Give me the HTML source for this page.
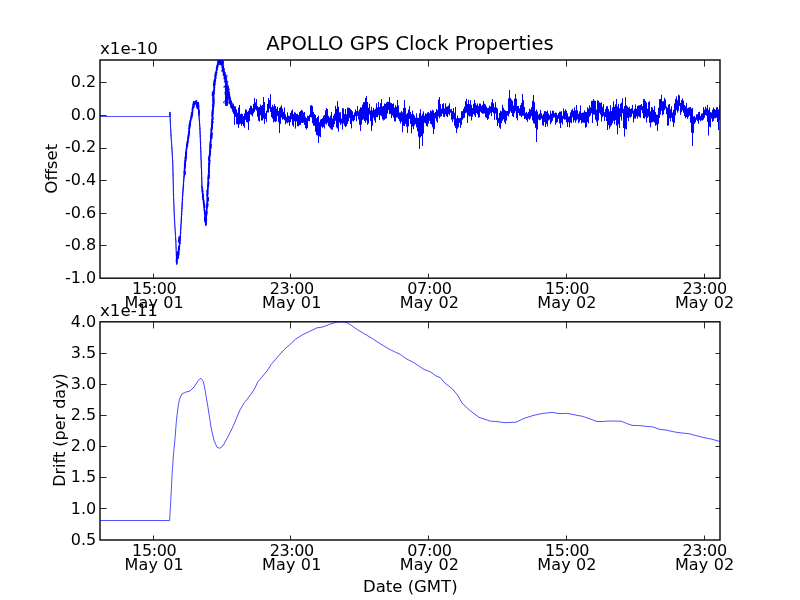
<!DOCTYPE html>
<html><head><meta charset="utf-8"><style>html,body{margin:0;padding:0;background:#fff;overflow:hidden}svg{display:block}</style></head>
<body><svg width="800" height="600" viewBox="0 0 800 600">
<rect width="800" height="600" fill="#fff"/>
<g font-family="DejaVu Sans, Liberation Sans, sans-serif" font-size="16.00" fill="#000">
<defs><clipPath id="c1"><rect x="100" y="60" width="620" height="218.18"/></clipPath><clipPath id="c2"><rect x="100" y="321.82" width="620" height="218.18"/></clipPath></defs>
<rect x="100" y="60" width="620" height="218.18" fill="none" stroke="#000" stroke-width="1.39"/>
<rect x="100" y="321.82" width="620" height="218.18" fill="none" stroke="#000" stroke-width="1.39"/>
<g clip-path="url(#c2)"><polyline points="100.0,520.5 169.6,520.5 170.6,503.7 172.0,475.4 173.5,454.2 174.9,440.0 176.5,419.5 178.0,407.5 179.5,399.2 181.8,394.0 185.5,392.2 190.0,391.0 194.5,386.5 198.2,380.5 200.8,378.2 203.2,381.2 205.0,389.5 208.0,407.5 211.0,427.0 214.0,440.5 217.0,447.2 219.7,448.3 223.0,445.8 227.5,437.5 233.5,425.5 236.0,419.3 240.3,409.3 244.3,402.7 249.7,396.0 254.3,389.3 257.7,382.0 261.7,377.3 267.7,370.0 271.0,364.7 275.0,360.0 279.0,355.3 283.7,350.0 289.7,344.7 295.5,339.3 302.4,334.8 309.3,331.5 316.8,327.9 323.0,326.9 329.9,324.2 336.8,322.1 340.9,321.7 345.7,322.1 350.5,324.9 357.4,329.7 364.3,333.8 372.5,338.6 380.8,344.1 389.0,349.0 394.6,351.8 400.2,354.3 405.9,358.6 413.8,362.6 423.9,369.4 430.6,372.0 436.2,376.0 440.3,377.7 445.2,383.3 452.0,388.5 457.6,395.2 462.1,403.1 470.0,410.6 479.0,417.3 490.2,421.1 497.0,421.6 504.9,422.7 516.1,422.2 524.0,418.4 533.0,415.5 542.0,413.5 552.1,412.4 558.8,413.6 567.5,413.4 574.0,414.7 582.8,416.4 590.5,419.1 597.0,421.5 602.5,421.5 609.0,421.0 621.1,421.2 626.6,423.4 632.0,425.4 639.7,425.6 646.2,426.3 652.8,426.9 659.4,429.3 666.0,430.0 673.6,431.8 681.2,432.9 689.0,433.7 694.4,435.2 703.1,437.4 711.9,439.2 719.5,441.4 720.0,441.5" fill="none" stroke="#00f" stroke-width="0.69" stroke-linejoin="round"/></g><g clip-path="url(#c1)"><line x1="100" y1="116.5" x2="169.6" y2="116.5" stroke="#00f" stroke-width="0.69"/>
<line x1="169.6" y1="116.5" x2="170.0" y2="112.3" stroke="#00f" stroke-width="0.75" stroke-linecap="round"/>
<line x1="170.0" y1="112.3" x2="170.3" y2="121.7" stroke="#00f" stroke-width="0.75" stroke-linecap="round"/>
<line x1="170.3" y1="121.7" x2="171.0" y2="135.0" stroke="#00f" stroke-width="0.75" stroke-linecap="round"/>
<line x1="171.0" y1="135.0" x2="171.9" y2="148.3" stroke="#00f" stroke-width="0.75" stroke-linecap="round"/>
<line x1="171.9" y1="148.3" x2="172.7" y2="161.7" stroke="#00f" stroke-width="0.75" stroke-linecap="round"/>
<line x1="172.7" y1="161.7" x2="173.1" y2="175.0" stroke="#00f" stroke-width="0.75" stroke-linecap="round"/>
<line x1="173.1" y1="175.0" x2="173.5" y2="195.0" stroke="#00f" stroke-width="0.75" stroke-linecap="round"/>
<line x1="173.5" y1="195.0" x2="174.5" y2="220.0" stroke="#00f" stroke-width="0.75" stroke-linecap="round"/>
<line x1="174.5" y1="220.0" x2="175.8" y2="240.0" stroke="#00f" stroke-width="0.75" stroke-linecap="round"/>
<line x1="175.8" y1="240.0" x2="176.4" y2="255.0" stroke="#00f" stroke-width="0.75" stroke-linecap="round"/>
<line x1="176.4" y1="255.0" x2="176.7" y2="264.0" stroke="#00f" stroke-width="0.75" stroke-linecap="round"/>
<line x1="176.7" y1="264.0" x2="177.5" y2="252.0" stroke="#00f" stroke-width="1.4" stroke-linecap="round"/>
<line x1="177.5" y1="252.0" x2="178.2" y2="258.0" stroke="#00f" stroke-width="1.4" stroke-linecap="round"/>
<line x1="178.2" y1="258.0" x2="179.2" y2="248.0" stroke="#00f" stroke-width="1.4" stroke-linecap="round"/>
<line x1="179.2" y1="248.0" x2="180.3" y2="236.7" stroke="#00f" stroke-width="1.4" stroke-linecap="round"/>
<line x1="180.3" y1="236.7" x2="181.3" y2="220.0" stroke="#00f" stroke-width="1.0" stroke-linecap="round"/>
<line x1="181.3" y1="220.0" x2="182.2" y2="203.3" stroke="#00f" stroke-width="1.0" stroke-linecap="round"/>
<line x1="182.2" y1="203.3" x2="183.3" y2="186.7" stroke="#00f" stroke-width="1.0" stroke-linecap="round"/>
<line x1="183.3" y1="186.7" x2="184.2" y2="175.0" stroke="#00f" stroke-width="1.0" stroke-linecap="round"/>
<line x1="184.2" y1="175.0" x2="184.7" y2="165.7" stroke="#00f" stroke-width="1.5" stroke-linecap="round"/>
<line x1="184.7" y1="165.7" x2="186.0" y2="152.3" stroke="#00f" stroke-width="1.5" stroke-linecap="round"/>
<line x1="186.0" y1="152.3" x2="187.7" y2="141.7" stroke="#00f" stroke-width="1.5" stroke-linecap="round"/>
<line x1="187.7" y1="141.7" x2="189.0" y2="132.3" stroke="#00f" stroke-width="1.5" stroke-linecap="round"/>
<line x1="189.0" y1="132.3" x2="190.3" y2="121.7" stroke="#00f" stroke-width="1.5" stroke-linecap="round"/>
<line x1="190.3" y1="121.7" x2="192.3" y2="112.3" stroke="#00f" stroke-width="1.5" stroke-linecap="round"/>
<line x1="192.3" y1="112.3" x2="193.7" y2="101.7" stroke="#00f" stroke-width="1.5" stroke-linecap="round"/>
<line x1="193.7" y1="101.7" x2="195.0" y2="103.5" stroke="#00f" stroke-width="1.5" stroke-linecap="round"/>
<line x1="195.0" y1="103.5" x2="196.3" y2="101.0" stroke="#00f" stroke-width="1.5" stroke-linecap="round"/>
<line x1="196.3" y1="101.0" x2="197.3" y2="108.0" stroke="#00f" stroke-width="1.5" stroke-linecap="round"/>
<line x1="197.3" y1="108.0" x2="198.3" y2="103.0" stroke="#00f" stroke-width="1.5" stroke-linecap="round"/>
<line x1="198.3" y1="103.0" x2="199.0" y2="115.0" stroke="#00f" stroke-width="1.5" stroke-linecap="round"/>
<line x1="199.0" y1="115.0" x2="199.9" y2="128.3" stroke="#00f" stroke-width="0.9" stroke-linecap="round"/>
<line x1="199.9" y1="128.3" x2="200.7" y2="148.3" stroke="#00f" stroke-width="0.9" stroke-linecap="round"/>
<line x1="200.7" y1="148.3" x2="201.3" y2="165.0" stroke="#00f" stroke-width="0.9" stroke-linecap="round"/>
<line x1="201.3" y1="165.0" x2="202.0" y2="186.7" stroke="#00f" stroke-width="0.9" stroke-linecap="round"/>
<line x1="202.0" y1="186.7" x2="203.7" y2="203.3" stroke="#00f" stroke-width="1.4" stroke-linecap="round"/>
<line x1="203.7" y1="203.3" x2="205.3" y2="218.0" stroke="#00f" stroke-width="1.4" stroke-linecap="round"/>
<line x1="205.3" y1="218.0" x2="205.8" y2="225.0" stroke="#00f" stroke-width="1.4" stroke-linecap="round"/>
<line x1="205.8" y1="225.0" x2="206.7" y2="211.7" stroke="#00f" stroke-width="1.4" stroke-linecap="round"/>
<line x1="206.7" y1="211.7" x2="208.0" y2="186.7" stroke="#00f" stroke-width="1.4" stroke-linecap="round"/>
<line x1="208.0" y1="186.7" x2="208.7" y2="172.0" stroke="#00f" stroke-width="1.4" stroke-linecap="round"/>
<line x1="208.7" y1="172.0" x2="209.7" y2="155.0" stroke="#00f" stroke-width="1.6" stroke-linecap="round"/>
<line x1="209.7" y1="155.0" x2="211.0" y2="135.0" stroke="#00f" stroke-width="1.6" stroke-linecap="round"/>
<line x1="211.0" y1="135.0" x2="212.2" y2="124.0" stroke="#00f" stroke-width="1.6" stroke-linecap="round"/>
<line x1="212.2" y1="124.0" x2="212.9" y2="110.5" stroke="#00f" stroke-width="1.6" stroke-linecap="round"/>
<line x1="212.9" y1="110.5" x2="213.8" y2="93.0" stroke="#00f" stroke-width="1.6" stroke-linecap="round"/>
<line x1="213.8" y1="93.0" x2="214.9" y2="81.3" stroke="#00f" stroke-width="1.6" stroke-linecap="round"/>
<line x1="214.9" y1="81.3" x2="216.1" y2="73.2" stroke="#00f" stroke-width="1.6" stroke-linecap="round"/>
<line x1="216.1" y1="73.2" x2="217.2" y2="66.2" stroke="#00f" stroke-width="1.6" stroke-linecap="round"/>
<line x1="217.2" y1="66.2" x2="218.4" y2="61.0" stroke="#00f" stroke-width="1.6" stroke-linecap="round"/>
<line x1="218.4" y1="61.0" x2="219.5" y2="60.3" stroke="#00f" stroke-width="2.2" stroke-linecap="round"/>
<line x1="219.5" y1="60.3" x2="220.3" y2="64.0" stroke="#00f" stroke-width="2.2" stroke-linecap="round"/>
<line x1="220.3" y1="64.0" x2="221.0" y2="60.3" stroke="#00f" stroke-width="2.2" stroke-linecap="round"/>
<line x1="221.0" y1="60.3" x2="222.3" y2="61.0" stroke="#00f" stroke-width="2.2" stroke-linecap="round"/>
<line x1="222.3" y1="61.0" x2="223.1" y2="69.7" stroke="#00f" stroke-width="2.2" stroke-linecap="round"/>
<line x1="223.1" y1="69.7" x2="224.8" y2="75.5" stroke="#00f" stroke-width="2.6" stroke-linecap="round"/>
<line x1="224.8" y1="75.5" x2="226.0" y2="81.3" stroke="#00f" stroke-width="2.6" stroke-linecap="round"/>
<line x1="226.0" y1="81.3" x2="226.3" y2="84.0" stroke="#00f" stroke-width="2.6" stroke-linecap="round"/>
<line x1="226.3" y1="84.0" x2="226.6" y2="104.7" stroke="#00f" stroke-width="2.6" stroke-linecap="round"/>
<line x1="226.6" y1="104.7" x2="226.9" y2="86.0" stroke="#00f" stroke-width="2.6" stroke-linecap="round"/>
<line x1="226.9" y1="86.0" x2="227.2" y2="87.2" stroke="#00f" stroke-width="2.6" stroke-linecap="round"/>
<line x1="227.2" y1="87.2" x2="228.3" y2="93.0" stroke="#00f" stroke-width="2.6" stroke-linecap="round"/>
<line x1="228.3" y1="93.0" x2="230.1" y2="101.2" stroke="#00f" stroke-width="2.6" stroke-linecap="round"/>
<line x1="230.1" y1="101.2" x2="231.8" y2="107.0" stroke="#00f" stroke-width="2.6" stroke-linecap="round"/>
<line x1="231.8" y1="107.0" x2="234.2" y2="111.7" stroke="#00f" stroke-width="2.0" stroke-linecap="round"/>
<path d="M176.5 261.4L176.9 256.6M177.4 254.7L177.8 254.2M177.6 255.5L178.0 256.9M178.6 249.8L178.9 246.5M178.8 241.9L179.2 237.0M184.8 174.4L185.0 171.6M184.9 167.1L185.2 162.8M185.6 161.1L186.2 155.7M185.9 156.1L186.3 152.6M186.8 146.6L187.5 142.2M188.4 136.9L189.2 131.2M189.3 128.1L190.0 122.6M191.6 117.3L192.3 114.2M193.7 107.5L194.1 104.4M195.1 103.5L196.4 101.1M197.5 105.3L197.9 107.9M198.1 103.1L198.3 105.9M198.8 110.3L198.9 112.9M202.7 193.7L203.2 199.0M204.1 203.2L204.6 207.5M205.6 212.5L205.9 215.2M204.8 217.7L205.1 221.7M205.7 222.4L205.9 219.7M206.3 215.3L206.5 212.7M207.5 206.5L207.7 203.7M208.0 201.2L208.2 197.9M207.1 195.9L207.4 190.1M208.4 185.4L208.5 182.2M208.9 178.4L209.1 174.9M208.8 172.9L209.0 170.4M209.2 165.8L209.6 160.5M209.0 160.3L209.3 156.1M209.8 154.8L209.9 152.2M210.8 148.2L211.0 144.6M211.7 138.3L212.0 133.3M211.5 128.8L212.1 123.9M212.0 122.4L212.2 119.2M212.2 115.8L212.5 110.2M213.5 106.7L213.8 101.1M213.2 100.8L213.3 97.2M212.5 95.5L212.7 92.2M213.8 85.4L214.4 80.1M215.2 76.3L215.8 72.5M217.3 67.6L217.8 64.9M218.9 61.9L220.3 60.6M220.6 64.0L222.0 60.7M223.1 66.6L223.3 69.2M225.0 76.4L225.7 79.9M226.1 81.5L226.3 84.2M226.4 89.7L226.5 95.3M226.0 98.2L226.0 101.4M226.3 100.3L226.4 94.5M227.0 90.5L227.2 86.5M227.6 87.6L228.5 92.7M229.8 98.3L230.7 102.0" stroke="#00f" stroke-width="1.7" stroke-linecap="round" fill="none"/>
<polyline points="169.6,116.3 169.7,116.3 169.6,116.0 169.6,115.6 169.7,115.5 169.7,115.2 169.8,114.6 169.9,114.5 169.8,114.2 169.8,113.8 169.9,113.6 169.9,113.2 169.9,112.9 169.9,112.5 170.0,112.3 170.1,112.6 169.9,112.8 170.0,113.1 169.9,113.5 170.0,113.8 169.9,114.1 170.0,114.2 170.0,114.6 170.1,114.9 170.1,115.3 170.1,115.5 169.9,116.0 170.1,116.2 170.1,116.5 170.2,116.8 170.0,117.1 170.1,117.3 170.1,117.8 170.1,118.0 170.3,118.3 170.1,118.6 170.2,118.9 170.3,119.3 170.2,119.6 170.2,119.8 170.3,120.2 170.3,120.4 170.2,120.8 170.3,121.0 170.4,121.1 170.2,121.7 170.4,121.9 170.3,122.1 170.3,122.5 170.5,122.7 170.4,123.3 170.3,123.4 170.4,123.5 170.5,124.0 170.4,124.2 170.5,124.7 170.5,124.8 170.5,125.0 170.6,125.5 170.5,125.7 170.5,126.0 170.5,126.2 170.6,126.7 170.5,127.1 170.5,127.1 170.6,127.7 170.7,127.8 170.7,128.4 170.6,128.5 170.6,128.7 170.7,129.2 170.6,129.4 170.7,129.6 170.7,130.0 170.8,130.2 170.8,130.4 170.8,131.0 170.8,131.1 170.8,131.4 170.9,131.8 170.8,131.9 170.8,132.2 170.9,132.6 170.9,132.9 170.9,133.3 170.8,133.7 170.9,133.8 170.9,134.2 171.1,134.5 171.0,134.7 171.0,135.1 171.1,135.3 171.0,135.8 171.1,136.0 171.1,136.3 171.1,136.4 171.0,136.9 171.2,137.1 171.0,137.5 171.0,137.7 171.2,138.0 171.2,138.4 171.3,138.7 171.4,138.9 171.2,139.4 171.3,139.5 171.3,139.8 171.4,140.2 171.4,140.4 171.4,140.7 171.5,141.0 171.5,141.5 171.4,141.8 171.5,141.9 171.5,142.4 171.4,142.5 171.6,142.9 171.5,143.2 171.6,143.5 171.6,144.0 171.6,144.1 171.6,144.2 171.6,144.8 171.5,144.9 171.6,145.2 171.7,145.3 171.6,145.9 171.8,146.2 171.6,146.5 171.9,146.8 171.8,147.2 171.9,147.3 171.9,147.7 171.8,147.9 172.0,148.2 172.0,148.6 171.9,148.9 171.9,149.0 172.0,149.5 171.9,149.7 172.1,150.0 172.0,150.4 172.0,150.6 172.0,150.8 172.0,151.1 172.0,151.7 172.2,151.7 172.1,152.1 172.2,152.5 172.2,152.8 172.1,152.9 172.2,153.3 172.2,153.6 172.2,154.0 172.2,154.2 172.2,154.4 172.2,154.9 172.2,155.2 172.4,155.4 172.3,155.7 172.3,156.1 172.4,156.3 172.5,156.7 172.3,156.8 172.4,157.2 172.4,157.5 172.3,157.7 172.5,158.1 172.5,158.4 172.5,158.7 172.5,159.0 172.6,159.2 172.5,159.6 172.6,159.9 172.5,160.2 172.5,160.6 172.7,160.7 172.6,161.0 172.7,161.4 172.7,161.7 172.7,162.2 172.7,162.4 172.8,162.5 172.7,163.0 172.7,163.1 172.8,163.4 172.9,164.0 172.8,164.1 172.8,164.5 172.7,164.8 172.7,165.2 172.9,165.3 172.9,165.7 172.8,165.8 172.9,166.1 172.9,166.6 172.9,166.9 172.9,167.1 172.8,167.4 173.0,167.7 172.8,167.9 173.0,168.4 172.9,168.7 173.0,168.9 173.1,169.2 173.0,169.6 172.9,169.8 172.8,170.2 173.0,170.3 172.9,170.7 173.0,171.2 173.1,171.3 172.9,171.6 172.8,172.0 173.0,172.3 173.0,172.6 173.0,172.7 173.0,173.1 173.0,173.3 172.9,173.6 173.1,174.0 173.0,174.3 173.0,174.7 173.1,175.2 173.1,175.3 173.1,175.6 173.0,175.7 173.1,176.0 173.1,176.3 173.1,176.6 173.2,176.9 173.1,177.2 173.2,177.6 173.2,177.8 173.3,178.1 173.1,178.4 173.2,178.8 173.2,179.1 173.2,179.5 173.1,179.8 173.2,180.0 173.3,180.4 173.2,180.5 173.2,181.1 173.2,181.3 173.3,181.5 173.2,181.7 173.1,182.1 173.2,182.2 173.1,182.6 173.0,183.1 173.2,183.3 173.4,183.6 173.3,184.0 173.2,184.1 173.2,184.5 173.4,184.8 173.3,185.0 173.3,185.4 173.3,185.6 173.3,186.2 173.4,186.2 173.4,186.8 173.4,186.8 173.3,187.2 173.4,187.4 173.3,187.7 173.4,188.1 173.3,188.5 173.4,188.6 173.4,189.1 173.3,189.2 173.5,189.6 173.5,189.9 173.4,190.2 173.5,190.3 173.4,190.9 173.2,191.1 173.4,191.4 173.4,191.6 173.4,191.8 173.4,192.2 173.4,192.6 173.4,192.9 173.6,193.1 173.5,193.4 173.5,193.9 173.6,194.1 173.4,194.3 173.5,194.8 173.4,195.0 173.6,195.3 173.6,195.5 173.6,195.8 173.6,196.1 173.6,196.4 173.6,196.8 173.6,197.1 173.6,197.4 173.6,197.7 173.7,198.0 173.7,198.2 173.6,198.4 173.6,198.8 173.6,199.1 173.8,199.4 173.7,199.8 173.7,200.0 173.7,200.3 173.6,200.7 173.7,201.0 173.8,201.2 173.7,201.6 173.8,201.9 173.8,202.1 173.8,202.5 173.7,203.0 173.8,203.0 173.8,203.5 173.9,203.8 173.8,204.1 173.9,204.2 174.0,204.8 173.9,204.9 173.9,205.2 173.9,205.5 173.9,205.8 173.9,206.1 174.0,206.4 174.1,206.8 174.0,206.9 174.0,207.2 173.9,207.7 174.0,207.9 173.9,208.3 174.0,208.4 174.1,208.9 174.0,209.1 174.2,209.5 174.2,209.6 174.1,210.0 174.2,210.3 174.3,210.4 174.1,210.8 174.1,211.3 174.1,211.4 174.2,211.7 174.3,212.2 174.3,212.5 174.1,212.8 174.2,212.9 174.2,213.3 174.3,213.7 174.2,213.8 174.3,214.1 174.3,214.6 174.3,214.9 174.3,215.0 174.3,215.1 174.3,215.5 174.4,215.9 174.5,216.3 174.4,216.6 174.4,216.9 174.3,217.1 174.4,217.5 174.3,217.7 174.3,218.1 174.5,218.3 174.5,218.9 174.4,219.0 174.3,219.2 174.5,219.5 174.4,219.8 174.6,220.0 174.7,220.4 174.6,220.7 174.5,221.2 174.5,221.3 174.6,221.6 174.6,221.8 174.6,222.2 174.7,222.6 174.6,222.8 174.8,223.3 174.8,223.4 174.8,223.9 174.7,224.1 174.8,224.4 174.8,224.5 174.8,224.8 174.8,225.3 174.8,225.7 174.8,225.9 175.0,226.2 174.9,226.4 175.0,226.7 175.0,227.0 174.8,227.4 174.9,227.7 175.0,227.9 175.1,228.2 175.0,228.6 175.2,228.9 175.1,229.1 175.0,229.6 175.1,229.8 175.2,230.1 175.2,230.5 175.0,230.7 175.3,230.9 175.3,231.3 175.4,231.5 175.2,231.8 175.3,231.9 175.2,232.6 175.5,232.6 175.3,233.1 175.5,233.3 175.3,233.6 175.4,233.9 175.3,234.3 175.4,234.6 175.5,235.0 175.4,235.2 175.6,235.5 175.5,235.7 175.5,236.1 175.5,236.4 175.5,236.6 175.6,236.9 175.6,237.2 175.6,237.6 175.6,237.9 175.6,238.1 175.6,238.4 175.7,238.8 175.8,238.9 175.6,239.3 175.8,239.8 175.7,239.7 175.7,240.2 175.9,240.6 175.8,240.7 176.0,241.4 175.8,241.2 175.9,241.9 175.9,242.2 175.8,242.4 175.9,242.6 175.9,243.0 176.0,243.1 175.9,243.6 175.9,243.7 176.0,244.1 176.0,244.5 176.1,244.6 175.9,245.0 176.0,245.3 175.9,245.5 176.1,246.0 176.0,246.3 175.9,246.4 176.1,246.8 176.2,247.1 176.0,247.4 176.0,247.7 176.1,248.0 176.0,248.4 176.2,248.6 176.1,249.0 176.1,249.2 176.2,249.6 176.1,249.8 176.2,250.1 176.1,250.3 176.1,250.8 176.1,251.1 176.4,251.5 176.2,251.7 176.3,251.9 176.3,252.2 176.3,252.6 176.3,252.8 176.5,253.3 176.3,253.5 176.2,253.6 176.3,254.0 176.3,254.4 176.4,254.6 176.5,254.9 176.3,255.3 176.3,255.5 176.4,255.8 176.5,256.1 176.2,256.2 176.5,256.8 176.4,256.9 176.6,257.3 176.4,257.6 176.5,258.0 176.4,258.2 176.4,258.5 176.6,258.7 176.6,259.1 176.5,259.3 176.5,259.7 176.4,260.0 176.5,260.3 176.6,260.8 176.6,261.0 176.6,261.3 176.5,261.5 176.6,261.8 176.6,262.2 176.7,262.5 176.8,262.6 176.7,263.1 176.6,263.4 176.7,263.7 176.7,264.0 176.4,263.2 176.7,262.9 176.3,264.1 177.0,263.0 176.8,261.9 176.9,262.5 176.8,261.8 176.6,260.8 176.5,260.3 176.8,260.3 176.7,260.9 177.0,260.5 177.0,260.1 176.4,260.0 177.0,259.9 176.5,258.3 176.8,258.9 176.9,258.3 176.2,257.8 177.1,257.8 177.2,257.7 177.1,257.4 177.0,256.5 177.0,256.7 176.8,257.6 177.1,255.8 177.0,255.2 177.3,255.8 176.8,255.7 177.4,255.3 177.4,254.3 177.3,255.0 177.2,253.8 177.6,253.4 176.7,253.3 177.6,253.3 177.5,253.4 177.6,253.0 177.6,252.4 177.2,252.6 177.4,252.2 177.8,252.9 177.8,252.1 177.7,252.3 177.1,253.8 177.9,253.0 178.2,253.8 178.2,254.2 177.9,254.3 177.2,254.7 178.2,255.8 177.8,254.2 176.9,256.2 178.1,257.2 177.4,256.4 177.5,256.6 177.8,257.3 178.6,258.1 178.0,257.0 178.3,257.9 178.9,257.8 178.9,257.8 178.2,257.3 178.2,257.3 177.8,256.5 178.1,256.4 178.6,255.7 178.6,255.4 178.5,255.4 178.9,255.1 178.2,254.3 178.5,255.3 178.9,254.2 178.8,253.3 179.1,254.2 178.8,253.0 178.6,253.3 178.9,252.8 178.4,252.6 178.1,252.3 179.0,251.6 178.8,251.6 179.0,252.3 178.2,249.9 178.8,250.7 178.7,250.6 178.6,249.6 178.1,249.1 178.9,250.5 179.4,249.0 179.3,249.9 178.9,248.9 179.2,248.3 179.5,248.2 178.1,248.0 179.2,248.0 179.5,247.3 179.6,246.9 180.0,246.6 179.8,246.9 179.5,246.3 179.6,245.1 179.8,245.0 179.3,245.2 179.5,244.4 179.9,244.2 180.4,243.7 179.5,243.7 179.6,243.7 179.7,243.7 180.2,242.9 179.7,243.6 180.3,242.3 179.4,243.6 179.7,242.2 179.8,241.7 180.2,240.9 180.3,239.5 179.3,240.5 179.6,240.3 180.1,240.9 179.9,239.3 179.7,239.8 180.3,239.0 180.2,238.9 180.2,237.8 180.1,238.2 180.4,237.8 180.2,237.7 180.5,237.3 180.1,236.7 180.1,236.9 180.4,236.5 180.2,236.2 180.5,236.0 180.4,235.7 180.2,235.2 180.4,234.5 180.4,234.2 180.6,234.6 180.3,234.1 180.4,233.7 180.7,233.3 181.0,233.1 180.9,232.8 180.6,232.4 180.6,232.0 180.9,232.4 180.6,231.6 180.4,231.1 180.7,230.7 180.8,230.5 180.5,230.5 180.4,230.3 180.4,229.7 180.9,229.5 180.6,229.1 180.7,228.6 180.8,228.9 180.9,228.4 180.8,228.6 180.9,227.5 180.7,227.3 180.8,227.3 180.7,226.7 181.1,226.1 180.9,225.9 180.8,225.9 180.9,225.7 180.9,225.3 181.1,225.2 180.7,224.9 180.8,224.5 181.0,224.1 181.6,223.7 181.3,223.6 181.1,223.4 181.3,222.9 181.6,222.7 181.1,222.2 181.1,221.6 181.4,221.4 181.3,221.6 181.4,221.2 181.2,221.2 181.7,220.5 181.6,220.4 181.4,220.2 181.5,219.8 180.9,219.1 181.5,218.9 181.3,218.7 181.5,218.2 181.5,218.2 181.4,218.0 181.1,217.4 181.5,217.7 181.3,216.8 181.4,216.5 181.4,216.2 181.4,215.8 181.1,215.8 181.8,215.4 181.6,215.5 181.8,214.9 182.0,214.6 181.6,214.1 181.3,213.6 181.5,213.6 181.4,213.1 181.6,213.2 181.7,212.7 181.3,212.8 181.8,212.3 181.4,212.0 181.8,211.6 181.8,211.2 181.7,211.1 181.8,210.8 181.7,210.1 181.7,210.1 181.5,210.3 181.9,209.4 182.3,209.0 182.3,208.6 182.2,208.2 182.1,208.5 181.8,207.9 182.3,207.7 182.0,207.7 182.0,207.6 182.0,206.5 182.1,206.7 182.0,206.3 182.0,205.9 181.9,205.6 182.0,205.2 182.6,205.3 182.1,204.8 182.1,204.4 182.3,204.3 182.3,203.9 182.0,203.5 182.2,203.2 182.4,203.2 182.3,202.6 182.3,202.2 182.6,201.7 182.2,201.5 182.3,201.1 182.2,201.0 182.7,200.8 182.0,199.9 182.3,200.1 182.3,200.0 182.6,199.6 182.6,199.0 182.8,199.2 182.2,198.5 182.7,198.0 182.5,197.8 182.4,197.7 182.7,197.7 182.4,197.4 182.2,196.9 182.6,196.2 182.4,196.1 182.6,195.7 182.8,195.6 182.8,194.9 183.1,195.1 182.7,194.9 182.5,194.4 182.7,194.2 182.6,193.6 182.6,193.2 183.0,193.1 182.8,193.2 182.5,192.9 183.1,192.2 182.9,192.3 183.0,191.7 183.0,191.8 183.1,191.3 183.0,190.7 183.3,190.7 183.2,190.1 183.2,189.7 183.2,189.3 182.8,189.4 183.1,189.0 183.1,188.7 183.2,188.3 182.9,188.5 183.6,187.7 183.3,187.4 183.0,187.5 182.9,187.3 183.2,186.7 183.3,185.9 183.2,185.9 183.4,185.9 183.3,185.5 183.5,185.5 183.3,184.5 183.5,184.7 183.7,184.1 184.0,184.3 183.3,183.6 183.5,183.6 183.4,182.9 183.8,182.4 183.4,182.2 183.6,182.0 183.7,181.6 183.5,181.9 183.5,181.6 183.6,181.0 183.3,180.4 183.5,180.3 183.7,179.9 183.9,180.1 183.8,179.5 183.5,179.3 183.8,178.8 184.1,178.1 184.1,178.1 184.0,177.7 183.8,177.8 184.3,177.4 183.8,176.6 183.5,176.6 183.7,177.3 184.8,175.7 184.2,175.4 184.7,175.5 184.0,174.9 184.6,174.7 183.9,175.0 184.2,175.3 185.4,173.1 184.6,173.8 184.1,173.5 184.3,173.1 184.5,172.8 184.9,172.4 184.1,172.8 183.6,171.7 184.3,171.6 184.4,171.4 184.5,171.1 185.0,170.7 184.6,171.0 184.8,170.2 184.0,170.0 184.9,169.6 185.5,168.7 184.9,168.5 184.7,168.1 184.6,168.5 185.4,167.7 184.2,167.2 184.6,167.6 184.8,167.5 185.0,165.9 184.5,167.5 184.8,166.3 184.6,165.9 184.8,166.3 184.7,165.4 184.2,164.8 184.8,166.0 185.2,163.9 184.4,164.1 184.8,164.4 185.2,163.0 184.5,163.3 185.0,163.2 184.5,164.0 185.5,161.9 186.1,162.1 186.0,162.2 185.0,161.6 185.5,160.6 185.2,161.1 185.2,160.7 185.9,160.6 184.7,160.6 185.8,160.3 185.3,159.6 186.0,159.3 185.5,158.2 185.1,158.5 185.5,158.3 185.8,157.7 185.5,157.7 185.7,156.9 185.3,157.9 184.6,157.9 186.0,156.2 185.9,156.4 185.7,155.7 185.7,156.2 186.2,155.5 185.5,155.0 185.5,154.5 185.7,154.4 186.4,153.5 185.2,154.1 186.4,153.1 185.6,153.4 185.5,152.9 186.5,153.1 186.0,152.2 185.5,152.5 185.9,151.2 186.6,151.7 186.7,151.0 186.1,150.9 186.5,150.5 186.7,150.7 186.1,148.8 186.6,149.8 186.5,148.5 186.3,149.7 186.4,147.6 186.7,147.9 186.7,147.2 186.5,148.7 186.6,146.8 187.3,147.3 187.0,146.6 187.3,145.7 187.5,146.2 187.3,146.4 188.1,145.6 186.7,146.0 187.5,145.0 187.1,144.9 188.1,144.3 188.1,144.4 186.5,145.0 186.9,143.9 187.7,143.5 187.8,142.7 187.9,142.4 187.5,143.3 187.8,141.6 188.0,141.4 187.7,141.5 188.2,141.1 186.8,142.1 188.1,139.4 187.4,140.6 188.4,140.5 187.9,139.2 187.6,139.2 188.2,139.5 187.7,139.8 187.7,138.1 187.5,137.5 188.2,138.6 188.5,138.6 188.8,137.3 188.3,135.9 188.8,137.6 188.4,136.4 188.4,136.9 188.8,135.9 189.0,135.4 188.4,135.1 188.5,135.9 188.6,135.5 188.7,133.3 188.3,133.7 189.2,134.8 188.6,133.4 189.1,132.5 188.5,133.0 189.1,132.6 189.2,132.3 188.8,131.8 190.0,131.6 189.3,131.2 189.9,131.4 189.6,130.5 188.9,130.4 189.1,130.2 189.5,130.7 189.3,129.9 189.4,129.3 189.3,129.4 188.6,129.0 189.4,129.1 188.5,128.5 189.7,128.9 189.2,128.3 189.3,127.3 189.5,126.8 189.8,127.2 189.1,126.7 189.0,126.1 189.3,125.0 188.9,124.5 189.4,125.4 190.6,125.4 189.5,125.1 190.3,123.6 189.4,124.6 190.2,123.5 189.9,123.7 190.1,123.4 190.4,122.4 191.0,122.2 190.3,121.1 190.3,121.5 189.9,120.7 190.6,121.6 190.3,121.1 190.9,121.3 190.5,120.7 191.4,119.9 189.8,120.1 190.6,119.4 191.2,119.6 190.7,119.2 190.6,118.2 190.9,118.4 190.4,118.2 191.2,117.7 192.3,118.0 191.8,118.2 190.8,116.8 191.0,116.5 191.2,115.2 191.9,116.0 191.2,115.6 191.3,114.3 192.1,115.4 192.1,115.2 191.6,114.2 191.4,114.1 191.2,113.5 191.7,114.2 191.1,112.6 192.5,113.0 191.9,113.9 192.5,112.6 193.1,112.5 192.9,111.9 191.9,111.0 192.8,111.4 193.0,111.3 192.2,110.2 192.1,110.7 192.5,110.9 191.9,110.5 193.3,108.7 191.6,108.8 192.2,108.1 192.7,109.3 192.7,108.7 192.9,108.5 193.0,107.3 192.8,106.9 193.5,107.3 192.0,107.0 193.0,106.2 192.8,106.4 193.2,106.4 193.3,105.9 192.8,104.9 193.0,104.0 193.6,104.7 193.5,104.6 193.1,104.1 194.3,103.7 194.5,103.3 192.8,103.7 193.7,103.0 194.7,102.8 194.0,101.9 193.7,101.8 193.6,102.0 193.5,101.3 193.9,101.4 193.9,102.1 194.6,103.2 194.3,102.9 194.5,103.8 194.3,103.2 195.0,103.3 194.7,102.5 195.2,102.6 195.9,103.5 195.7,102.6 195.9,102.6 196.0,102.3 196.0,101.6 196.1,101.2 196.1,101.2 196.7,101.6 195.9,101.7 197.0,102.1 196.5,102.2 196.2,102.0 196.3,102.5 196.3,102.5 196.7,103.8 196.3,102.4 197.2,103.8 196.4,105.5 195.8,104.3 196.5,104.1 196.0,105.0 196.9,106.0 197.4,105.6 197.3,106.3 196.4,106.3 196.7,106.3 197.9,108.5 197.3,107.2 197.2,107.1 197.7,107.5 198.4,108.2 197.9,107.9 197.5,107.8 197.6,107.2 197.8,106.0 197.3,106.8 197.2,106.0 197.7,105.8 197.3,104.8 197.8,105.0 197.9,104.6 199.0,104.7 197.6,103.7 198.0,104.2 198.1,103.9 198.4,103.0 198.7,102.9 198.1,102.6 197.9,103.8 197.6,102.3 197.9,103.7 198.6,103.3 198.4,104.3 197.9,105.3 198.3,104.8 198.5,105.5 198.7,105.3 198.2,107.1 198.4,106.8 197.7,107.2 198.0,106.2 199.3,106.6 197.6,108.1 198.4,107.7 198.7,108.0 198.4,108.6 198.3,108.0 198.6,109.4 198.7,109.3 198.6,109.9 197.9,109.6 198.7,110.5 198.4,110.1 198.5,111.3 198.9,111.7 199.1,111.9 199.2,112.0 198.6,112.4 199.3,110.9 199.4,113.1 199.4,112.8 199.5,113.3 198.8,113.4 198.9,113.1 199.3,113.8 198.4,114.8 199.1,115.5 198.9,114.9 199.0,115.1 198.8,115.9 198.9,115.7 199.1,116.6 199.2,116.5 199.3,116.6 199.1,117.3 199.1,117.7 199.1,117.4 199.3,118.3 199.2,118.2 199.3,118.9 199.5,118.8 199.3,118.9 199.1,119.6 199.2,120.0 199.1,120.5 199.2,120.7 199.6,120.8 199.4,121.0 199.2,121.2 199.5,121.5 199.7,121.7 199.4,122.1 199.4,122.0 199.5,122.8 199.6,123.1 199.7,123.8 199.8,123.8 199.8,123.9 199.8,124.4 199.9,124.4 199.8,124.8 199.5,124.8 199.7,125.7 199.8,125.9 199.7,125.9 199.9,126.4 199.7,126.9 199.7,127.1 200.0,127.3 200.0,127.4 199.9,127.8 200.0,128.2 200.1,128.6 200.0,128.6 199.6,128.9 199.8,129.6 199.9,129.5 199.8,130.2 200.0,130.3 200.2,130.7 199.9,131.2 199.8,131.3 200.3,131.6 200.0,131.6 199.9,131.9 200.1,132.5 200.1,132.9 200.0,133.2 200.2,133.7 200.0,133.6 200.0,133.9 200.2,134.4 200.3,134.5 200.1,134.8 200.2,134.9 200.2,135.5 200.6,135.5 200.1,136.1 200.4,136.0 200.2,136.8 200.2,136.7 200.4,137.3 200.4,137.2 200.5,137.7 200.3,138.3 200.2,138.2 200.2,138.7 200.4,138.9 200.4,138.9 200.6,139.6 200.4,139.9 200.5,140.0 200.6,140.6 200.4,140.6 200.2,140.9 200.2,141.4 200.2,141.5 200.7,142.4 200.3,142.0 200.7,142.7 200.6,143.0 200.8,142.8 200.7,143.2 200.5,143.9 200.5,144.0 200.6,144.4 200.6,144.9 200.5,144.9 200.6,145.1 200.8,145.1 200.3,145.9 200.7,146.0 200.5,146.5 200.7,146.8 200.8,146.8 200.7,147.7 200.8,147.9 200.4,148.1 200.9,148.0 200.6,148.5 200.8,148.8 200.8,149.1 200.4,149.3 200.6,149.8 200.8,150.1 201.0,150.4 200.8,150.6 200.8,151.2 200.6,151.3 201.0,151.1 201.1,151.7 200.8,152.1 200.8,152.6 200.6,152.7 201.0,153.0 201.3,153.2 201.0,153.8 201.1,153.9 201.0,154.1 200.8,154.4 201.1,155.0 200.8,155.1 200.9,155.2 201.0,155.9 201.1,155.9 201.1,156.4 201.1,156.7 200.9,157.2 200.8,157.4 201.0,157.5 200.9,157.8 200.9,157.9 200.9,158.8 201.0,158.8 200.8,159.3 200.9,159.3 200.9,159.3 201.1,160.2 201.2,160.3 201.4,160.6 200.9,160.9 201.1,161.3 201.3,161.5 201.2,161.5 201.1,162.2 201.5,162.3 201.2,162.6 201.1,163.3 201.0,163.4 201.3,163.5 201.3,163.5 201.1,164.2 201.1,164.5 201.4,164.7 201.4,164.8 201.2,165.2 201.4,165.4 201.4,166.0 201.1,166.4 201.3,166.7 201.4,166.7 201.3,167.2 201.1,167.5 201.3,167.7 201.5,168.0 201.6,168.7 201.1,168.7 201.8,169.1 201.3,169.2 201.6,169.6 201.6,169.5 201.6,170.1 201.5,170.7 201.3,171.1 201.6,171.3 201.4,171.5 201.1,171.7 201.9,171.8 201.6,172.2 201.8,172.7 201.4,172.7 201.8,173.3 201.8,173.3 201.8,173.4 201.6,173.9 201.4,174.0 201.6,174.4 201.3,175.1 201.4,175.2 201.7,175.6 201.5,176.1 201.6,176.4 201.7,176.4 202.0,177.0 201.9,177.1 201.7,177.3 201.9,177.7 201.6,177.7 201.7,178.1 201.9,178.5 201.6,179.0 201.7,179.1 201.6,179.4 201.8,179.9 202.0,180.3 201.7,180.5 201.8,180.9 201.7,180.9 201.7,181.2 201.6,181.6 202.1,181.8 202.2,182.0 201.9,182.7 201.8,182.7 202.0,182.9 201.8,183.4 202.0,184.0 202.0,184.0 202.0,184.5 202.0,184.5 201.9,184.8 201.9,185.0 201.7,185.4 201.9,186.1 201.8,185.8 202.0,186.6 201.9,186.5 202.1,186.8 202.2,187.6 201.5,187.8 201.8,188.0 201.8,187.3 202.5,188.6 202.9,188.2 202.6,190.3 202.1,189.2 202.9,189.7 201.7,189.4 203.0,190.0 202.1,189.9 201.3,191.3 203.5,191.0 203.1,191.7 202.1,191.4 202.6,191.8 202.5,192.9 202.6,192.1 202.0,192.0 202.4,193.4 202.9,193.0 202.8,193.6 203.2,194.5 202.8,194.0 203.8,195.1 202.6,194.7 203.0,196.0 202.1,196.2 202.4,195.7 203.5,196.1 202.6,196.1 203.2,196.9 203.0,197.6 202.7,196.7 203.0,198.1 202.9,197.3 203.0,197.9 203.5,197.7 203.5,199.9 203.0,199.2 202.9,199.6 203.5,199.4 203.3,200.6 203.8,199.4 204.5,200.7 203.8,202.0 203.5,201.1 203.5,201.6 203.2,202.2 203.2,201.8 203.2,202.5 203.5,203.2 203.5,203.1 204.0,203.5 203.6,203.5 203.7,204.1 203.3,204.3 204.5,205.2 204.1,205.2 204.6,205.0 204.3,204.3 204.6,206.1 203.9,206.4 204.3,205.9 205.1,205.7 203.6,206.4 204.6,207.7 204.8,207.0 204.4,207.6 204.5,208.2 204.8,209.0 204.0,208.7 204.5,209.0 204.0,209.1 204.1,210.4 204.2,210.4 204.4,210.2 204.5,209.8 204.7,210.4 204.0,211.4 205.4,211.1 205.1,212.1 204.9,212.2 204.5,212.4 204.7,212.9 205.0,213.1 204.9,212.8 204.1,213.3 205.1,214.9 206.1,213.5 204.1,214.2 205.3,215.2 205.1,214.9 205.0,214.9 205.6,214.9 204.6,216.1 205.2,216.7 205.7,217.1 205.1,216.8 205.0,217.6 205.3,216.9 205.1,217.7 205.9,217.6 204.9,218.3 205.7,218.9 204.8,219.4 205.7,218.7 205.4,220.1 204.4,219.5 205.4,219.6 205.0,220.3 205.3,220.0 206.1,221.0 205.1,221.4 205.1,221.5 206.2,222.1 205.6,222.0 206.3,222.5 205.8,222.1 205.3,223.1 205.7,222.9 206.2,223.4 206.1,223.9 205.7,224.3 205.8,223.8 205.7,224.1 205.6,224.7 206.6,224.8 205.9,224.4 205.4,224.4 205.7,224.3 206.2,223.6 206.2,223.0 205.9,222.3 205.7,222.0 206.0,221.9 205.3,222.0 205.5,221.7 206.4,221.3 205.9,220.9 206.2,221.0 206.6,220.5 206.4,220.2 206.2,219.9 207.0,219.2 206.5,218.7 206.1,219.1 206.5,218.8 206.4,218.2 205.9,217.8 206.3,218.8 206.2,217.0 205.5,217.0 206.3,216.9 206.3,215.9 206.2,216.2 205.7,216.7 206.3,216.0 206.4,215.6 206.5,215.3 206.0,214.7 206.8,214.8 206.0,214.0 206.5,213.6 207.1,213.5 206.3,213.6 206.4,213.0 207.1,212.9 206.5,211.3 206.6,212.6 206.8,212.8 207.1,212.0 205.8,210.9 206.4,210.4 206.3,210.6 206.3,209.7 206.4,210.2 206.5,209.3 206.9,209.7 206.5,209.6 206.9,207.7 207.0,208.5 206.6,207.8 207.0,207.1 207.6,207.2 207.1,207.1 206.7,207.4 206.9,205.9 206.6,206.8 207.1,207.0 207.4,206.0 206.7,205.7 207.0,205.1 207.5,204.2 206.9,204.8 207.2,204.4 206.7,204.2 206.8,204.8 206.9,203.6 208.0,203.2 207.0,203.4 207.0,201.8 207.0,201.5 207.1,201.6 207.5,201.2 207.3,201.5 208.1,200.7 207.4,201.4 207.9,201.0 207.4,200.4 207.6,199.5 206.8,199.7 207.3,199.5 207.3,198.3 207.3,198.7 206.5,198.5 207.8,198.0 207.3,198.4 207.3,197.9 207.4,196.6 207.4,196.8 207.7,196.0 207.0,196.4 207.2,195.4 207.7,195.9 207.6,195.4 207.4,195.4 207.4,194.5 207.3,193.6 207.6,194.9 208.1,193.6 207.2,194.1 208.3,193.3 208.0,193.1 207.5,193.4 208.0,192.4 207.1,192.6 207.1,190.9 207.2,191.7 207.6,190.9 207.7,190.6 207.6,190.4 207.9,190.3 207.0,190.6 208.1,188.6 207.3,189.2 207.6,188.6 207.7,189.2 207.5,188.1 207.4,188.2 207.5,187.5 208.0,187.7 208.2,187.6 208.2,186.6 207.6,186.5 207.7,185.5 207.7,186.1 208.2,186.0 207.3,185.1 208.6,185.6 207.9,183.7 207.8,183.5 208.3,183.5 208.6,183.6 208.3,183.5 208.6,183.2 208.2,182.9 208.7,183.0 208.7,182.1 208.2,181.4 208.8,181.1 208.3,182.4 208.3,180.0 207.9,180.7 208.2,181.2 208.6,180.5 207.8,179.5 208.6,179.6 208.5,179.7 208.5,179.6 207.5,178.3 208.4,178.8 208.7,178.2 208.1,178.4 208.5,178.2 207.5,177.1 208.7,176.2 208.2,176.8 208.8,177.2 207.8,176.4 208.8,175.8 208.4,176.6 208.9,174.6 208.2,175.3 208.3,174.3 209.5,174.3 208.3,174.0 208.3,174.4 208.5,172.9 208.2,172.8 209.1,172.0 209.4,172.7 208.4,171.9 208.0,172.0 209.2,171.0 209.2,171.1 209.1,171.4 209.2,170.6 208.5,170.6 208.7,170.3 208.3,169.6 208.3,168.7 209.3,169.6 208.6,168.9 209.8,169.0 209.0,167.3 208.7,167.1 209.3,166.6 209.7,166.9 209.2,167.5 208.4,167.1 209.2,166.4 209.7,166.2 208.8,166.3 208.7,165.4 209.6,165.5 209.2,165.0 208.6,163.3 209.0,164.1 208.8,164.9 209.3,163.5 209.3,163.4 209.8,162.8 209.6,162.6 208.5,163.2 209.5,162.1 209.7,161.3 209.5,159.8 209.8,161.0 209.1,159.9 208.9,159.7 209.8,160.9 208.9,160.6 208.3,158.7 209.9,160.1 209.1,159.5 209.3,158.5 208.8,159.1 208.8,157.4 208.9,157.3 209.4,156.9 209.7,156.8 208.4,157.7 210.0,156.1 209.0,155.9 209.1,155.7 210.0,156.1 209.6,155.5 208.9,155.9 210.6,154.6 209.3,154.0 209.9,154.2 209.9,154.2 210.5,153.3 209.6,153.7 210.3,154.4 209.5,152.6 210.4,152.7 209.5,153.2 209.7,151.7 210.9,151.3 210.1,150.8 210.0,151.4 211.1,151.2 210.2,150.5 209.6,150.3 210.4,150.7 209.5,150.2 210.6,148.5 210.7,149.1 209.8,148.8 209.8,148.9 210.2,148.0 210.2,147.5 209.7,147.3 210.5,146.2 209.2,146.9 210.0,146.3 210.1,146.6 210.1,145.4 210.5,145.5 209.7,144.9 210.6,144.5 210.3,145.3 210.1,144.3 209.7,144.5 209.8,143.3 210.6,143.7 210.0,142.4 210.5,142.8 211.0,142.5 211.0,142.8 211.3,142.3 210.4,141.8 210.0,142.1 211.1,141.4 210.8,141.3 211.2,141.1 210.7,140.3 211.3,139.9 211.1,140.0 211.1,139.2 211.0,139.4 210.9,139.5 210.9,139.1 210.9,138.0 211.3,137.2 210.6,137.6 211.7,137.3 210.8,137.7 211.4,136.5 210.9,136.3 210.8,136.6 212.0,135.6 210.8,135.5 210.3,136.3 210.6,135.9 210.9,135.1 212.1,134.5 211.2,133.5 211.6,134.1 210.7,133.5 211.4,133.3 211.6,132.6 212.2,132.6 210.9,132.2 211.6,132.2 211.5,132.6 210.9,131.6 211.4,130.1 211.3,130.2 210.3,129.6 211.8,129.7 211.8,130.2 211.4,129.8 210.9,129.0 212.4,129.2 211.8,128.3 212.2,127.6 212.5,127.3 211.5,127.3 212.2,128.4 211.7,126.4 211.8,127.7 211.9,127.4 211.9,126.2 212.5,126.0 212.1,125.4 212.0,125.4 211.9,125.5 212.3,124.8 211.7,125.1 211.9,124.9 212.2,124.1 211.9,123.8 212.2,123.3 211.9,123.2 213.3,122.1 212.9,122.7 212.5,122.3 212.3,121.3 213.4,122.8 212.5,120.7 212.3,120.4 212.5,120.8 212.5,119.2 213.1,119.6 212.4,118.8 213.5,118.9 212.0,119.1 212.8,119.0 212.0,119.2 213.4,118.7 212.3,118.7 212.5,118.0 213.0,117.1 213.2,117.7 212.0,116.5 212.4,116.1 211.9,117.1 212.7,116.3 212.6,115.7 212.5,115.7 212.3,115.5 212.5,113.8 212.3,114.3 213.0,113.3 213.5,113.8 211.8,113.0 212.7,114.0 212.6,113.2 213.0,112.1 212.3,112.2 212.7,111.2 212.3,111.7 213.2,111.7 212.9,111.2 212.8,109.6 213.1,110.3 212.8,110.5 212.2,110.0 213.2,110.3 213.1,108.5 212.9,109.3 213.5,108.3 213.6,108.5 212.5,108.3 212.6,108.2 213.8,107.1 213.8,107.3 212.7,106.2 212.5,105.7 212.8,106.6 212.9,105.9 212.3,104.7 213.2,104.9 212.5,105.1 212.6,105.7 213.6,105.1 212.9,104.6 213.2,102.8 213.5,103.5 213.7,103.5 213.1,103.2 213.3,102.9 212.9,102.2 214.2,103.1 213.6,102.6 212.8,101.4 213.4,100.6 213.7,102.1 213.6,100.2 214.3,101.0 214.1,101.1 213.2,99.1 213.4,99.5 212.8,98.9 213.6,99.1 213.6,98.7 214.8,99.3 213.6,98.2 212.5,97.6 213.2,97.9 213.6,96.8 212.9,96.5 213.2,97.7 213.4,95.6 213.8,95.5 213.5,95.5 213.2,94.5 214.1,93.6 213.4,95.2 213.4,93.8 213.0,93.6 213.3,93.5 214.1,92.8 212.9,92.4 213.7,92.9 214.2,93.9 213.6,92.6 214.0,92.3 213.3,90.7 214.6,91.3 214.5,90.3 214.1,91.1 213.1,90.2 213.5,90.1 214.6,89.7 214.9,89.1 214.3,88.3 214.8,89.2 213.9,87.8 214.1,87.6 214.2,87.8 214.5,87.3 213.5,87.6 214.8,87.7 215.0,87.0 213.8,86.6 213.7,86.2 214.6,86.4 214.1,84.5 213.3,85.5 214.9,84.5 214.6,84.0 214.4,84.4 215.7,83.9 214.7,84.2 214.3,84.2 214.8,81.8 214.2,82.9 214.4,83.8 215.0,82.8 214.5,82.9 214.6,81.8 215.7,80.6 215.3,80.5 215.4,81.3 215.3,81.1 215.3,79.8 215.8,79.8 215.1,79.8 216.1,78.3 214.8,78.8 215.1,79.7 214.6,79.8 215.2,78.1 215.7,79.0 216.2,77.3 215.2,76.8 215.5,75.6 215.4,77.3 215.3,76.2 215.1,77.5 215.7,76.0 214.9,75.6 215.9,74.1 215.9,75.8 215.6,74.4 215.4,74.2 215.3,72.7 217.0,74.3 215.4,74.0 216.9,72.8 216.5,72.9 216.0,72.8 215.7,72.8 216.8,72.0 217.2,72.7 215.9,71.2 216.3,70.7 217.0,70.5 216.7,68.9 217.6,69.7 216.4,70.5 217.0,69.7 216.1,68.8 217.8,69.2 216.5,67.5 215.8,68.2 216.9,68.4 216.9,68.2 218.0,67.0 216.9,67.7 217.1,68.0 217.5,66.4 218.0,66.8 217.3,65.1 217.9,64.5 217.7,65.8 217.3,65.2 217.6,65.0 217.6,64.2 217.2,64.1 218.3,64.5 217.1,64.7 218.5,63.3 218.4,62.1 217.9,63.6 217.4,63.1 217.9,62.8 218.6,62.1 218.8,63.8 218.5,61.4 219.2,61.5 218.1,59.0 219.0,60.1 217.8,59.8 220.0,60.3 219.6,60.7 219.3,59.9 220.6,62.6 220.3,60.2 217.5,61.1 219.9,62.1 218.7,60.9 220.8,63.0 222.0,63.3 219.7,62.7 220.2,65.1 220.0,63.7 220.6,64.2 220.9,62.8 221.4,61.8 219.7,62.5 221.8,62.5 219.8,62.1 220.8,63.0 221.6,59.7 221.3,60.6 220.0,59.6 220.3,62.4 220.5,60.2 220.9,60.0 222.0,59.2 220.3,61.3 222.0,60.2 222.3,60.9 222.6,58.9 222.7,62.2 223.6,61.7 222.8,62.2 223.1,63.1 222.9,62.1 223.9,62.4 221.0,63.5 223.5,63.5 222.3,63.2 222.3,63.8 221.8,63.5 221.1,65.0 222.3,65.5 222.1,64.9 223.1,67.0 221.5,64.0 223.9,65.6 223.0,67.8 222.6,66.0 222.3,65.2 222.2,68.4 222.0,67.8 222.5,66.5 222.9,68.7 222.8,67.2 221.9,67.2 222.8,68.6 222.2,68.5 223.2,68.1 225.0,69.3 223.8,68.8 223.0,70.3 221.7,70.5 222.0,71.7 221.9,70.6 224.3,69.8 222.9,70.1 223.9,71.7 223.3,74.1 224.1,73.6 225.4,72.1 223.4,74.3 223.9,72.0 223.5,74.9 225.3,73.6 223.4,75.2 223.4,75.3 223.2,74.5 223.3,75.6 225.3,74.2 227.4,75.7 223.9,77.3 225.9,81.3 225.3,77.5 224.0,77.0 224.9,76.0 225.0,78.8 224.6,75.8 227.3,77.1 223.5,78.8 225.9,77.2 225.9,80.8 225.0,80.6 225.8,78.9 226.6,79.2 225.9,78.6 226.3,78.8 226.6,81.3 223.9,81.8 227.5,81.8 228.3,82.0 227.1,81.3 227.1,82.7 224.7,80.8 226.1,82.8 225.4,84.9 225.7,85.0 227.2,83.2 225.5,83.6 226.2,86.0 224.4,86.8 226.2,83.1 226.4,84.7 225.6,85.8 225.6,87.3 228.2,85.1 225.1,87.2 225.3,86.4 225.5,89.9 227.5,87.8 228.5,87.5 226.7,87.5 225.6,89.5 225.9,89.3 227.4,87.5 225.5,89.4 227.8,87.8 227.8,88.8 226.5,88.5 227.0,88.7 227.1,89.8 228.0,89.7 225.4,91.9 227.6,92.5 226.0,91.5 225.7,90.8 226.5,93.4 226.2,90.3 225.4,90.7 224.8,94.2 225.5,94.4 227.9,95.1 228.4,94.0 227.1,93.0 227.6,94.2 225.9,95.8 226.4,94.5 226.8,94.9 225.4,94.3 225.5,94.9 226.6,97.6 226.2,97.5 225.4,95.8 226.9,96.2 226.2,97.1 227.5,98.8 226.5,97.0 226.2,98.5 226.6,96.4 226.4,97.8 225.9,100.1 226.1,101.0 227.3,98.8 227.2,99.6 227.8,101.8 224.9,100.6 226.2,100.8 226.1,102.3 226.7,102.3 226.1,103.7 226.1,103.6 227.4,102.2 226.8,103.1 225.4,103.4 227.9,102.2 227.6,102.9 226.0,105.6 227.4,102.7 225.9,105.5 227.7,104.3 226.4,103.5 225.8,104.0 226.3,103.7 225.9,104.2 226.8,102.0 226.8,101.9 226.7,101.6 226.1,103.8 223.0,102.4 226.8,99.9 224.8,100.3 226.9,99.5 227.8,100.1 227.0,100.0 226.3,102.2 226.5,97.0 226.6,100.1 226.1,99.1 226.1,97.4 225.8,97.8 227.9,97.1 226.7,97.4 227.7,98.3 226.5,95.0 226.8,98.1 226.6,95.7 227.2,97.7 227.6,96.1 227.0,96.8 226.1,95.7 226.0,96.0 228.4,94.5 226.5,93.1 226.5,94.6 228.2,94.3 227.9,95.7 227.3,90.5 226.4,92.3 229.2,93.6 227.2,90.5 227.4,91.4 226.6,93.9 225.4,92.8 225.5,89.7 227.2,92.2 227.2,91.6 226.6,90.8 225.7,90.0 225.4,89.6 226.5,87.9 225.4,88.1 227.8,89.3 228.0,88.3 229.7,90.0 227.8,87.1 226.3,84.3 226.0,86.5 223.4,86.9 226.3,86.8 226.7,86.1 227.9,85.2 227.6,88.3 227.7,86.0 227.4,88.0 227.9,87.0 228.7,86.3 226.3,89.7 227.0,85.3 226.1,87.6 229.1,89.4 228.9,88.7 228.4,90.4 226.5,89.6 227.9,89.5 227.6,92.9 227.9,90.4 227.7,90.7 228.5,89.9 227.6,90.6 228.9,92.6 228.4,92.8 227.9,92.4 228.1,91.9 227.9,93.8 229.2,91.3 228.2,93.2 228.8,93.6 228.2,93.2 227.1,94.7 229.6,94.0 227.7,94.1 229.5,97.5 229.3,96.5 227.3,97.4 228.1,96.3 228.6,97.7 228.3,97.8 228.0,98.6 230.0,100.3 229.1,97.4 229.8,98.3 229.0,98.2 229.8,94.4 228.8,97.2 229.6,99.2 230.3,100.2 229.8,99.1 229.4,101.4 228.8,101.9 230.1,100.1 230.4,102.6 229.9,103.3 229.4,102.1 230.8,100.6 232.8,103.9 230.1,102.2 230.9,102.2 231.0,103.1 228.1,102.6 230.9,104.8 230.2,104.8 232.3,105.6 230.9,104.9 230.6,104.0 231.1,104.8 231.4,106.0 231.0,105.2 231.4,108.3 230.6,105.9 231.5,105.9 232.3,107.7 233.2,107.6 232.4,107.2 232.3,107.3 233.0,108.2 233.1,108.8 233.6,109.0 233.4,108.3 232.7,109.2 233.1,109.8 233.1,110.0 233.4,107.1 233.4,109.2 232.9,109.5 232.1,110.3 233.2,110.9 232.4,111.8 234.0,111.8 234.1,111.4" fill="none" stroke="#00f" stroke-width="0.69"/>
<path d="M232.5 104.5V110.6M233.5 103.8V113.9M234.5 106.2V124.9M235.5 106.4V116.9M236.5 109.4V124.2M237.5 112.7V124.3M238.5 107.6V128.0M239.5 104.9V124.4M240.5 114.1V123.7M241.5 113.5V125.8M242.5 114.1V123.9M243.5 116.0V126.1M244.5 113.4V127.8M245.5 109.3V119.7M246.5 109.9V122.0M247.5 111.9V122.6M248.5 110.7V130.0M249.5 108.1V121.1M250.5 105.6V114.3M251.5 105.9V115.1M252.5 108.2V116.5M253.5 103.9V113.5M254.5 98.0V111.8M255.5 102.4V109.6M256.5 99.1V110.6M257.5 105.9V116.6M258.5 107.2V120.7M259.5 106.9V121.6M260.5 104.5V115.3M261.5 105.8V120.6M262.5 104.9V120.3M263.5 97.0V118.4M264.5 102.0V123.9M265.5 113.1V119.0M266.5 110.7V121.9M267.5 103.8V112.5M268.5 98.0V112.6M269.5 100.1V108.7M270.5 94.2V112.0M271.5 107.1V117.1M272.5 104.8V118.6M273.5 106.6V122.4M274.5 104.1V121.4M275.5 106.0V122.0M276.5 108.7V121.2M277.5 106.8V116.0M278.5 111.0V122.2M279.5 107.9V133.0M280.5 106.9V123.9M281.5 105.3V117.5M282.5 108.5V119.8M283.5 111.8V119.1M284.5 107.4V120.3M285.5 114.3V124.3M286.5 116.8V122.5M287.5 112.3V123.3M288.5 115.7V122.3M289.5 115.9V125.8M290.5 112.8V122.1M291.5 110.7V119.2M292.5 109.5V125.2M293.5 114.1V126.8M294.5 112.2V121.3M295.5 112.7V128.6M296.5 114.1V121.4M297.5 113.7V126.3M298.5 115.0V126.2M299.5 111.9V125.1M300.5 111.0V124.9M301.5 109.9V122.8M302.5 110.5V123.1M303.5 112.6V122.6M304.5 112.0V124.9M305.5 116.6V128.1M306.5 118.1V129.5M307.5 115.7V128.1M308.5 116.1V120.9M309.5 114.7V121.2M310.5 105.5V117.3M311.5 105.2V117.4M312.5 106.1V123.2M313.5 111.9V125.7M314.5 114.0V125.8M315.5 115.1V131.8M316.5 118.2V135.1M317.5 117.0V135.5M318.5 115.6V143.0M319.5 122.2V136.4M320.5 119.5V137.2M321.5 119.0V126.7M322.5 118.1V127.9M323.5 115.7V126.9M324.5 115.1V128.5M325.5 110.2V123.7M326.5 108.0V124.5M327.5 109.0V122.8M328.5 115.8V126.2M329.5 117.6V127.4M330.5 115.6V128.6M331.5 111.9V129.6M332.5 118.5V129.7M333.5 115.7V127.0M334.5 113.7V124.3M335.5 105.9V120.8M336.5 108.8V127.4M337.5 101.0V128.6M338.5 106.7V131.7M339.5 112.4V122.5M340.5 112.2V125.0M341.5 118.7V123.6M342.5 108.2V129.5M343.5 108.4V123.5M344.5 114.0V125.7M345.5 109.0V127.1M346.5 114.3V126.1M347.5 107.7V123.9M348.5 107.7V121.4M349.5 107.9V118.1M350.5 109.1V124.1M351.5 110.1V128.4M352.5 111.3V120.8M353.5 114.9V121.6M354.5 112.4V120.2M355.5 109.4V116.3M356.5 111.1V121.2M357.5 106.0V115.8M358.5 111.4V119.4M359.5 109.4V124.8M360.5 107.2V131.0M361.5 107.5V124.6M362.5 104.6V119.9M363.5 102.2V119.4M364.5 102.1V121.0M365.5 97.9V122.7M366.5 96.0V120.5M367.5 102.0V124.8M368.5 107.7V123.5M369.5 103.6V114.6M370.5 110.4V121.0M371.5 106.8V131.0M372.5 110.4V125.7M373.5 107.8V117.7M374.5 109.7V120.5M375.5 108.7V122.7M376.5 103.2V117.0M377.5 107.4V117.3M378.5 101.9V115.3M379.5 107.0V120.0M380.5 103.1V115.4M381.5 99.0V116.3M382.5 106.5V119.3M383.5 106.0V120.5M384.5 103.5V119.8M385.5 103.9V118.8M386.5 102.4V118.4M387.5 101.8V113.6M388.5 101.9V110.0M389.5 97.0V114.3M390.5 102.6V113.7M391.5 103.1V118.0M392.5 104.0V115.5M393.5 103.3V117.5M394.5 107.6V121.4M395.5 105.2V121.5M396.5 106.9V117.5M397.5 100.0V117.4M398.5 105.5V119.0M399.5 112.5V121.1M400.5 112.4V123.4M401.5 111.0V121.7M402.5 112.3V132.3M403.5 108.0V125.7M404.5 100.0V126.0M405.5 107.8V123.9M406.5 114.2V126.7M407.5 112.8V133.0M408.5 109.6V126.4M409.5 106.2V119.0M410.5 111.9V123.8M411.5 114.1V133.4M412.5 110.7V126.5M413.5 114.2V129.2M414.5 115.6V125.5M415.5 117.8V124.1M416.5 113.4V127.4M417.5 117.7V131.3M418.5 117.9V136.7M419.5 113.2V149.0M420.5 109.3V137.6M421.5 115.6V136.0M422.5 113.7V146.0M423.5 111.4V133.6M424.5 115.7V122.7M425.5 113.4V123.4M426.5 113.9V126.0M427.5 112.5V126.6M428.5 112.0V123.6M429.5 113.3V120.9M430.5 110.3V123.8M431.5 111.2V124.5M432.5 109.8V127.3M433.5 110.6V134.0M434.5 113.0V129.1M435.5 112.0V118.3M436.5 109.0V121.2M437.5 110.1V122.8M438.5 99.6V116.4M439.5 97.0V118.3M440.5 104.2V116.7M441.5 108.8V116.3M442.5 104.0V113.7M443.5 103.2V116.8M444.5 108.4V117.1M445.5 103.3V114.4M446.5 106.8V116.2M447.5 106.4V117.2M448.5 105.6V114.1M449.5 103.3V115.5M450.5 109.4V112.7M451.5 109.1V119.6M452.5 111.1V122.1M453.5 108.0V119.3M454.5 112.7V125.7M455.5 106.9V127.9M456.5 118.4V133.0M457.5 115.6V128.8M458.5 118.0V127.3M459.5 118.2V122.9M460.5 117.7V127.8M461.5 111.2V124.8M462.5 111.1V119.8M463.5 108.7V118.3M464.5 106.6V117.7M465.5 101.2V113.2M466.5 98.8V112.6M467.5 104.0V123.0M468.5 99.9V115.6M469.5 104.1V116.7M470.5 100.2V116.2M471.5 104.8V120.5M472.5 108.1V116.7M473.5 103.8V114.0M474.5 99.8V115.3M475.5 103.1V117.1M476.5 105.2V113.0M477.5 103.5V114.5M478.5 106.0V117.7M479.5 103.5V117.2M480.5 103.7V111.8M481.5 105.8V113.0M482.5 104.8V113.7M483.5 101.0V113.7M484.5 103.7V113.4M485.5 104.5V117.3M486.5 106.6V117.9M487.5 108.2V119.9M488.5 107.8V118.8M489.5 105.7V114.8M490.5 106.5V112.9M491.5 102.3V116.1M492.5 99.1V112.1M493.5 103.3V113.4M494.5 107.3V119.9M495.5 102.2V113.5M496.5 107.4V119.8M497.5 108.5V126.0M498.5 117.9V122.9M499.5 112.9V127.6M500.5 110.8V128.9M501.5 111.4V123.2M502.5 104.7V120.7M503.5 107.8V119.3M504.5 109.8V122.3M505.5 110.7V124.1M506.5 111.1V120.5M507.5 111.0V115.6M508.5 98.4V116.4M509.5 90.0V113.7M510.5 98.1V111.4M511.5 99.5V113.0M512.5 100.7V116.2M513.5 105.5V117.1M514.5 98.8V113.2M515.5 94.0V111.3M516.5 98.7V118.3M517.5 106.0V120.3M518.5 105.9V113.0M519.5 108.4V115.6M520.5 105.1V115.7M521.5 103.0V117.2M522.5 94.0V115.8M523.5 100.2V115.8M524.5 106.9V119.0M525.5 112.8V118.7M526.5 111.9V120.1M527.5 113.4V121.9M528.5 111.9V118.7M529.5 108.7V119.9M530.5 109.6V118.4M531.5 107.2V116.1M532.5 100.8V120.5M533.5 95.0V123.1M534.5 102.2V123.9M535.5 111.2V127.9M536.5 109.5V142.0M537.5 111.5V129.6M538.5 114.7V119.5M539.5 113.5V120.3M540.5 109.9V119.9M541.5 113.3V118.7M542.5 115.4V125.2M543.5 113.7V125.8M544.5 111.1V121.9M545.5 111.2V127.0M546.5 111.8V123.8M547.5 110.6V126.4M548.5 113.4V120.5M549.5 115.1V119.5M550.5 110.7V124.3M551.5 113.6V122.5M552.5 110.6V120.8M553.5 110.9V117.9M554.5 113.3V117.3M555.5 112.5V124.6M556.5 112.9V122.8M557.5 115.0V122.1M558.5 113.1V118.9M559.5 111.7V123.5M560.5 111.6V128.0M561.5 111.2V122.7M562.5 115.9V124.5M563.5 108.5V118.8M564.5 111.1V119.7M565.5 109.4V119.5M566.5 110.6V122.3M567.5 113.4V127.0M568.5 116.6V122.3M569.5 116.2V127.4M570.5 112.4V122.5M571.5 110.1V123.2M572.5 108.8V117.3M573.5 110.9V122.5M574.5 107.3V120.2M575.5 110.3V122.7M576.5 105.0V120.5M577.5 110.3V119.3M578.5 113.8V123.2M579.5 111.4V122.0M580.5 105.4V120.0M581.5 113.0V123.4M582.5 112.7V122.5M583.5 112.5V122.7M584.5 110.3V122.8M585.5 111.8V127.8M586.5 112.1V126.9M587.5 107.3V122.0M588.5 108.6V123.4M589.5 105.2V116.8M590.5 107.5V115.6M591.5 100.9V113.2M592.5 100.8V123.0M593.5 99.1V114.4M594.5 100.5V114.7M595.5 101.0V119.7M596.5 109.6V121.7M597.5 100.3V126.0M598.5 100.7V120.4M599.5 102.4V112.9M600.5 103.0V114.7M601.5 102.2V121.6M602.5 106.8V117.2M603.5 104.2V115.9M604.5 112.1V121.0M605.5 109.0V117.1M606.5 106.3V121.0M607.5 106.2V130.0M608.5 109.1V125.1M609.5 111.6V128.8M610.5 105.2V126.7M611.5 111.0V125.2M612.5 107.3V123.3M613.5 101.3V120.8M614.5 106.7V124.3M615.5 104.3V120.2M616.5 99.0V125.6M617.5 106.5V134.5M618.5 103.9V124.3M619.5 108.2V128.0M620.5 103.7V116.9M621.5 102.5V120.6M622.5 98.3V113.1M623.5 108.8V128.0M624.5 106.1V136.6M625.5 97.2V128.9M626.5 105.3V129.5M627.5 106.4V118.0M628.5 107.7V121.1M629.5 106.9V117.3M630.5 109.0V117.6M631.5 108.3V116.6M632.5 104.9V113.7M633.5 110.6V122.4M634.5 108.9V118.6M635.5 104.4V118.5M636.5 108.7V116.4M637.5 106.0V118.6M638.5 105.3V116.2M639.5 105.4V117.1M640.5 104.9V117.8M641.5 104.0V110.2M642.5 106.3V113.1M643.5 99.2V118.1M644.5 99.0V118.7M645.5 101.0V116.8M646.5 102.4V122.5M647.5 108.7V117.9M648.5 102.1V116.6M649.5 101.2V122.7M650.5 111.3V127.4M651.5 106.9V122.6M652.5 107.7V122.2M653.5 109.9V121.7M654.5 106.0V122.7M655.5 112.0V125.8M656.5 114.6V124.8M657.5 114.7V131.0M658.5 107.9V123.9M659.5 99.1V118.0M660.5 99.0V114.5M661.5 94.7V110.8M662.5 101.3V115.3M663.5 101.2V114.3M664.5 97.8V110.2M665.5 99.5V108.5M666.5 106.5V114.2M667.5 107.8V125.6M668.5 104.6V125.6M669.5 104.0V118.3M670.5 109.3V121.4M671.5 106.3V117.8M672.5 112.5V121.8M673.5 109.9V127.0M674.5 103.4V122.9M675.5 98.9V115.3M676.5 96.4V110.2M677.5 100.2V112.7M678.5 94.7V110.9M679.5 95.4V105.9M680.5 102.9V114.9M681.5 100.1V112.2M682.5 98.5V110.4M683.5 100.7V112.7M684.5 104.9V116.1M685.5 106.3V118.2M686.5 102.8V117.1M687.5 108.4V118.8M688.5 107.5V116.9M689.5 107.4V115.6M690.5 107.0V122.8M691.5 108.6V132.6M692.5 107.9V146.0M693.5 116.5V133.1M694.5 115.9V123.9M695.5 117.5V122.2M696.5 114.3V119.8M697.5 114.3V121.2M698.5 112.1V123.9M699.5 111.8V119.9M700.5 115.9V121.2M701.5 113.6V120.3M702.5 113.3V120.5M703.5 107.1V119.6M704.5 109.6V117.7M705.5 106.5V115.0M706.5 108.4V115.8M707.5 104.9V121.9M708.5 109.8V135.5M709.5 107.4V126.6M710.5 112.1V127.4M711.5 112.5V118.5M712.5 109.7V121.9M713.5 107.6V121.0M714.5 109.0V118.2M715.5 109.9V118.4M716.5 107.3V117.6M717.5 107.1V122.1M718.5 109.4V130.0M719.5 104.8V120.2" fill="none" stroke="#00f" stroke-width="1"/></g>
<path d="M153.5 278.18v-4.5M153.5 60v6.6M290.5 278.18v-4.5M290.5 60v6.6M428.5 278.18v-4.5M428.5 60v6.6M566.5 278.18v-4.5M566.5 60v6.6M704.5 278.18v-4.5M704.5 60v6.6M100 82.5h6.6M720 82.5h-4.5M100 115.5h6.6M720 115.5h-4.5M100 148.5h6.6M720 148.5h-4.5M100 180.5h6.6M720 180.5h-4.5M100 213.5h6.6M720 213.5h-4.5M100 245.5h6.6M720 245.5h-4.5" stroke="#111" stroke-width="0.9"/>
<path d="M153.5 540v-4.5M153.5 321.82v6.6M290.5 540v-4.5M290.5 321.82v6.6M428.5 540v-4.5M428.5 321.82v6.6M566.5 540v-4.5M566.5 321.82v6.6M704.5 540v-4.5M704.5 321.82v6.6M100 353.5h6.6M720 353.5h-4.5M100 384.5h6.6M720 384.5h-4.5M100 415.5h6.6M720 415.5h-4.5M100 446.5h6.6M720 446.5h-4.5M100 477.5h6.6M720 477.5h-4.5M100 508.5h6.6M720 508.5h-4.5" stroke="#111" stroke-width="0.9"/>
<text x="96.3" y="87.10" text-anchor="end">0.2</text>
<text x="96.3" y="119.70" text-anchor="end">0.0</text>
<text x="96.3" y="152.30" text-anchor="end">-0.2</text>
<text x="96.3" y="184.90" text-anchor="end">-0.4</text>
<text x="96.3" y="217.50" text-anchor="end">-0.6</text>
<text x="96.3" y="250.10" text-anchor="end">-0.8</text>
<text x="96.3" y="282.70" text-anchor="end">-1.0</text>
<text x="96.3" y="326.51" text-anchor="end">4.0</text>
<text x="96.3" y="357.68" text-anchor="end">3.5</text>
<text x="96.3" y="388.85" text-anchor="end">3.0</text>
<text x="96.3" y="420.02" text-anchor="end">2.5</text>
<text x="96.3" y="451.19" text-anchor="end">2.0</text>
<text x="96.3" y="482.36" text-anchor="end">1.5</text>
<text x="96.3" y="513.53" text-anchor="end">1.0</text>
<text x="96.3" y="544.70" text-anchor="end">0.5</text>
<text x="154.20" y="293.88" text-anchor="middle" letter-spacing="-0.38">15:00</text>
<text x="154.20" y="307.98" text-anchor="middle" letter-spacing="0.15">May 01</text>
<text x="291.80" y="293.88" text-anchor="middle" letter-spacing="-0.38">23:00</text>
<text x="291.80" y="307.98" text-anchor="middle" letter-spacing="0.15">May 01</text>
<text x="429.40" y="293.88" text-anchor="middle" letter-spacing="-0.38">07:00</text>
<text x="429.40" y="307.98" text-anchor="middle" letter-spacing="0.15">May 02</text>
<text x="567.00" y="293.88" text-anchor="middle" letter-spacing="-0.38">15:00</text>
<text x="567.00" y="307.98" text-anchor="middle" letter-spacing="0.15">May 02</text>
<text x="704.60" y="293.88" text-anchor="middle" letter-spacing="-0.38">23:00</text>
<text x="704.60" y="307.98" text-anchor="middle" letter-spacing="0.15">May 02</text>
<text x="154.20" y="555.70" text-anchor="middle" letter-spacing="-0.38">15:00</text>
<text x="154.20" y="569.80" text-anchor="middle" letter-spacing="0.15">May 01</text>
<text x="291.80" y="555.70" text-anchor="middle" letter-spacing="-0.38">23:00</text>
<text x="291.80" y="569.80" text-anchor="middle" letter-spacing="0.15">May 01</text>
<text x="429.40" y="555.70" text-anchor="middle" letter-spacing="-0.38">07:00</text>
<text x="429.40" y="569.80" text-anchor="middle" letter-spacing="0.15">May 02</text>
<text x="567.00" y="555.70" text-anchor="middle" letter-spacing="-0.38">15:00</text>
<text x="567.00" y="569.80" text-anchor="middle" letter-spacing="0.15">May 02</text>
<text x="704.60" y="555.70" text-anchor="middle" letter-spacing="-0.38">23:00</text>
<text x="704.60" y="569.80" text-anchor="middle" letter-spacing="0.15">May 02</text>
<text x="100" y="54.2" font-size="16.67">x1e-10</text>
<text x="100" y="316.1" font-size="16.67">x1e-11</text>
<text x="410" y="49.6" text-anchor="middle" font-size="19.6">APOLLO GPS Clock Properties</text>
<text transform="translate(57 168.7) rotate(-90)" text-anchor="middle" font-size="16.67">Offset</text>
<text transform="translate(64.5 430) rotate(-90)" text-anchor="middle">Drift (per day)</text>
<text x="410.3" y="591.7" text-anchor="middle" font-size="16.5">Date (GMT)</text>
</g></svg></body></html>
